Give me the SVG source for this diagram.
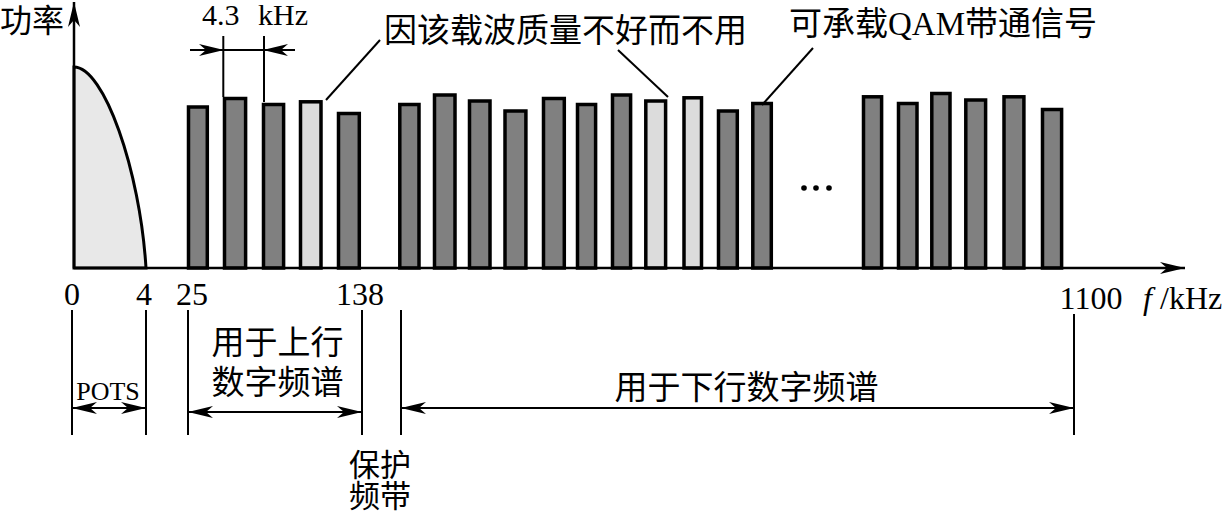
<svg xmlns="http://www.w3.org/2000/svg" width="1229" height="513" viewBox="0 0 1229 513">
<style>
.bar{fill:#808080;stroke:#000;stroke-width:3.5}
.bad{fill:#dcdcdc;stroke:#000;stroke-width:3.5}
.ax{stroke:#000;stroke-width:2.5;fill:none}
.dim{stroke:#000;stroke-width:2;fill:none}
.t{font-family:"Liberation Serif","Noto Sans CJK SC",serif;fill:#000}
.cn{font-family:"Noto Sans CJK SC","Liberation Serif",sans-serif;fill:#000;font-size:33px}
</style>
<defs>
<marker id="ah" viewBox="0 0 25 12" refX="25" refY="6" markerWidth="25" markerHeight="12" markerUnits="userSpaceOnUse" orient="auto-start-reverse">
<path d="M0,0 L25,6 L0,12 L7,6 Z" fill="#000"/>
</marker>
</defs>
<rect width="1229" height="513" fill="#fff"/>
<g id="pots-spectrum">
<path d="M74,268 L74,67 C104,67 140,170 146,268 Z" fill="#e8e8e8" stroke="#000" stroke-width="3"/>
</g>
<g id="bars">
<rect class="bar" x="188.5" y="107" width="18.8" height="161"/>
<rect class="bar" x="224.5" y="98.5" width="21.1" height="169.5"/>
<rect class="bar" x="263.5" y="104.5" width="20.1" height="163.5"/>
<rect class="bad" x="300.5" y="101.8" width="20.5" height="166.2"/>
<rect class="bar" x="338.5" y="113.5" width="20.8" height="154.5"/>
<rect class="bar" x="399.8" y="104.5" width="19.2" height="163.5"/>
<rect class="bar" x="434.5" y="95" width="20.5" height="173"/>
<rect class="bar" x="469.5" y="101" width="20.5" height="167"/>
<rect class="bar" x="505" y="111" width="20.9" height="157"/>
<rect class="bar" x="543.5" y="98.5" width="20.8" height="169.5"/>
<rect class="bar" x="577.5" y="104.5" width="18.1" height="163.5"/>
<rect class="bar" x="612.5" y="95" width="18.1" height="173"/>
<rect class="bad" x="645.8" y="101" width="19.8" height="167"/>
<rect class="bad" x="684" y="97.8" width="17.5" height="170.2"/>
<rect class="bar" x="718.5" y="111" width="18.8" height="157"/>
<rect class="bar" x="752.8" y="103.5" width="18.5" height="164.5"/>
<rect class="bar" x="863.5" y="96.8" width="18.1" height="171.2"/>
<rect class="bar" x="898.5" y="103.5" width="18.5" height="164.5"/>
<rect class="bar" x="931.8" y="93.5" width="18.2" height="174.5"/>
<rect class="bar" x="965.8" y="100" width="19.8" height="168"/>
<rect class="bar" x="1004" y="96.8" width="19.9" height="171.2"/>
<rect class="bar" x="1042.5" y="109.5" width="19.1" height="158.5"/>
</g>
<g id="ellipsis">
<circle cx="804" cy="188" r="2.8"/>
<circle cx="816" cy="188" r="2.8"/>
<circle cx="829" cy="188" r="2.8"/>
</g>
<g id="axes">
<line class="ax" x1="74" y1="268" x2="1185" y2="268" marker-end="url(#ah)"/>
<line class="ax" x1="74" y1="268" x2="74" y2="2" marker-end="url(#ah)"/>
</g>
<g id="connectors">
<line class="dim" x1="223.3" y1="36" x2="223.3" y2="97"/>
<line class="dim" x1="264" y1="36" x2="264" y2="102"/>
<line class="dim" x1="223" y1="50" x2="264" y2="50"/>
<line class="dim" x1="190" y1="50" x2="224" y2="50" marker-end="url(#ah)"/>
<line class="dim" x1="295" y1="50" x2="263" y2="50" marker-end="url(#ah)"/>
<line class="dim" x1="380" y1="40" x2="326" y2="100"/>
<line class="dim" x1="618" y1="50" x2="668" y2="97"/>
<line class="dim" x1="813" y1="48" x2="762" y2="105"/>
<line class="dim" x1="72" y1="310" x2="72" y2="435"/>
<line class="dim" x1="146" y1="310" x2="146" y2="435"/>
<line class="dim" x1="188" y1="310" x2="188" y2="435"/>
<line class="dim" x1="362" y1="310" x2="362" y2="435"/>
<line class="dim" x1="401" y1="310" x2="401" y2="435"/>
<line class="dim" x1="1074" y1="314" x2="1074" y2="435"/>
<line class="dim" x1="72" y1="408" x2="146" y2="408" marker-start="url(#ah)" marker-end="url(#ah)"/>
<line class="dim" x1="188" y1="412" x2="362" y2="412" marker-start="url(#ah)" marker-end="url(#ah)"/>
<line class="dim" x1="401" y1="408" x2="1074" y2="408" marker-start="url(#ah)" marker-end="url(#ah)"/>
</g>
<g id="label-power"><text class="cn" x="0" y="32" style="font-size:32px">功率</text></g>
<g id="label-spacing"><text class="t" y="25" font-size="30"><tspan x="202">4.3</tspan><tspan x="258">kHz</tspan></text></g>
<g id="label-bad"><text class="cn" x="384" y="42">因该载波质量不好而不用</text></g>
<g id="label-qam"><text class="cn" x="789" y="35">可承载<tspan class="t">QAM</tspan>带通信号</text></g>
<g id="ticks">
<text class="t" font-size="32" text-anchor="middle" x="72" y="305">0</text>
<text class="t" font-size="32" text-anchor="middle" x="144" y="305">4</text>
<text class="t" font-size="32" text-anchor="middle" x="192" y="305">25</text>
<text class="t" font-size="32" text-anchor="middle" x="360" y="305">138</text>
<text class="t" font-size="32" text-anchor="middle" x="1091" y="309">1100</text>
<text class="t" font-size="32" y="309"><tspan x="1143" font-style="italic">f</tspan><tspan x="1160">/kHz</tspan></text>
</g>
<g id="label-pots"><text class="t" font-size="26" text-anchor="middle" x="108" y="400">POTS</text></g>
<g id="label-up"><text class="cn" text-anchor="middle" x="277.5" y="354">用于上行</text><text class="cn" text-anchor="middle" x="277.5" y="394">数字频谱</text></g>
<g id="label-guard"><text class="cn" text-anchor="middle" x="380" y="476" style="font-size:31px">保护</text><text class="cn" text-anchor="middle" x="380" y="507" style="font-size:31px">频带</text></g>
<g id="label-down"><text class="cn" text-anchor="middle" x="746.5" y="399">用于下行数字频谱</text></g>
</svg>
